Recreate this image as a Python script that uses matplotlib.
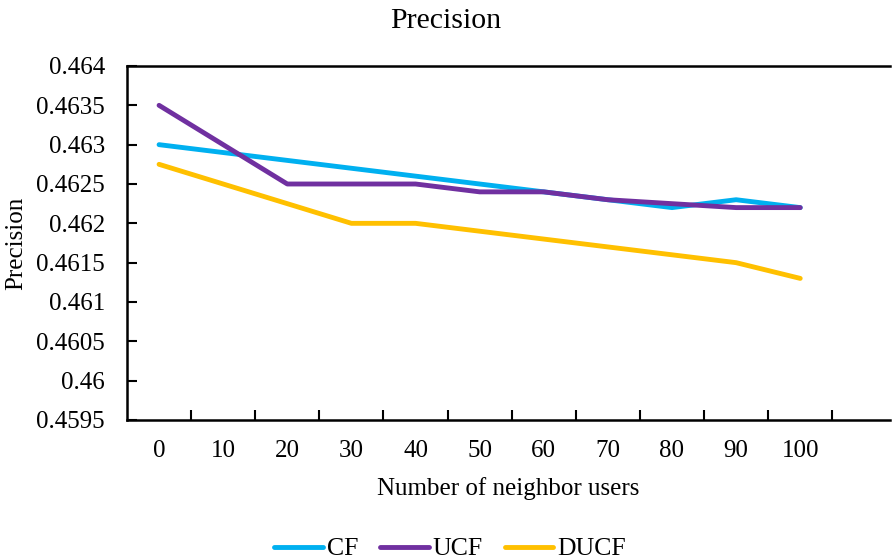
import matplotlib
matplotlib.use("Agg")
import matplotlib.pyplot as plt

categories = ["0", "10", "20", "30", "40", "50", "60", "70", "80", "90", "100"]
cf = [0.4630, 0.4629, 0.4628, 0.4627, 0.4626, 0.4625, 0.4624, 0.4623, 0.4622, 0.4623, 0.4622]
ucf = [0.4635, 0.4630, 0.4625, 0.4625, 0.4625, 0.4624, 0.4624, 0.4623, 0.46225, 0.4622, 0.4622]
ducf = [0.46275, 0.4625, 0.46225, 0.4620, 0.4620, 0.4619, 0.4618, 0.4617, 0.4616, 0.4615, 0.4613]
yticks = [0.4595, 0.46, 0.4605, 0.461, 0.4615, 0.462, 0.4625, 0.463, 0.4635, 0.464]
ytick_labels = ["0.4595", "0.46", "0.4605", "0.461", "0.4615", "0.462", "0.4625", "0.463", "0.4635", "0.464"]

plt.rcParams['font.family'] = ['Liberation Serif', 'DejaVu Serif']

fig = plt.figure(figsize=(8.92, 5.59), dpi=100)
ax = fig.add_axes([127/892, 1-420/559, (890-127)/892, (420-66)/559])

x = list(range(len(categories)))
ax.plot(x, cf, color="#00B0F0", lw=3.5, label="CF", solid_capstyle="round")
ax.plot(x, ucf, color="#7030A0", lw=3.5, label="UCF", solid_capstyle="round")
ax.plot(x, ducf, color="#FFC000", lw=3.5, label="DUCF", solid_capstyle="round")

ax.set_xlim(-0.5, 11.4)
ax.set_ylim(0.4595, 0.464)
ax.set_yticks(yticks)
ax.set_yticklabels(ytick_labels, fontsize=18)
ax.set_xticks(x)
ax.set_xticklabels(categories, fontsize=18)
ax.set_xticks([i + 0.5 for i in range(len(categories))], minor=True)
ax.tick_params(axis='x', which='major', length=0, pad=14.5)
ax.tick_params(axis='x', which='minor', direction='in', length=7, width=1.5)
ax.tick_params(axis='y', which='major', direction='in', length=7, width=1.5, pad=16)

ax.spines['right'].set_visible(False)
for s in ['left', 'bottom', 'top']:
    ax.spines[s].set_linewidth(1.8)

ax.set_xlabel("Number of neighbor users", fontsize=18, labelpad=11)
ax.set_ylabel("Precision", fontsize=18, labelpad=6)
fig.text(446/892, 1-21/559, "Precision", fontsize=21.5, ha='center', va='center')

fig.legend(loc='center', bbox_to_anchor=(450/892, 1-549/559), ncol=3, frameon=False,
           fontsize=18.5, handlelength=1.9, handletextpad=0.15, columnspacing=0.85)

fig.savefig("out.png", dpi=100)
